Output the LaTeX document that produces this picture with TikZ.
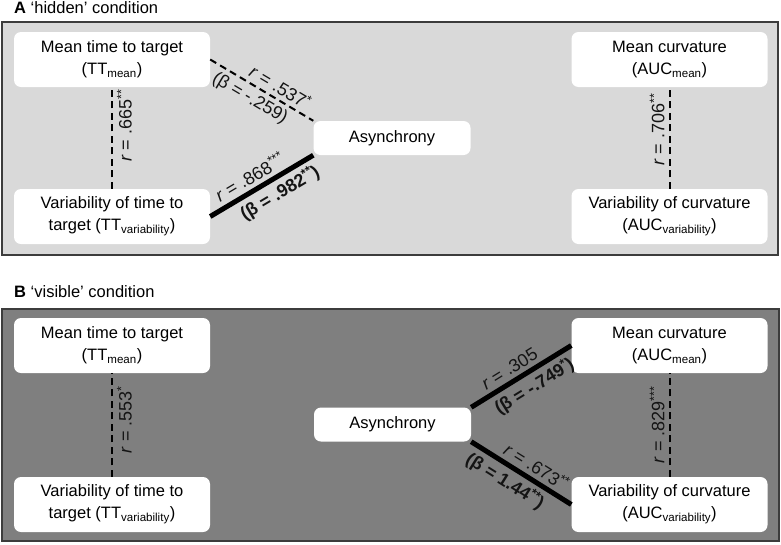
\documentclass[tikz,border=0pt]{standalone}
\usepackage{fontspec}
\setmainfont{Liberation Sans}
\definecolor{panelA}{HTML}{D9D9D9}
\definecolor{panelB}{HTML}{7F7F7F}
\definecolor{framegray}{HTML}{3C3C3C}
\definecolor{labgray}{HTML}{141414}
\newcommand{\boxfont}{\fontsize{16.5}{22}\selectfont}
\newcommand{\labfont}{\fontsize{18}{20}\selectfont}
\newcommand{\st}[1]{\raisebox{0.33em}{\fontsize{12.5}{12.5}\selectfont #1}}
\tikzset{
  panel/.style={draw=framegray, line width=1.5pt},
  varbox/.style={fill=white, rounded corners=7pt, align=center, inner sep=0pt,
    minimum width=196pt, minimum height=55pt, font=\boxfont},
  asybox/.style={varbox, minimum width=157pt, minimum height=34pt},
  corr/.style={line width=2pt, dash pattern=on 7pt off 4.5pt},
  pred/.style={line width=5pt},
  lab/.style={font=\labfont, text=labgray, inner sep=4pt, sloped}
}
\begin{document}
\begin{tikzpicture}[x=1pt,y=-1pt]
  \useasboundingbox (0,0) rectangle (781,544);

        % Panel A
  \node[font=\boxfont, anchor=west, inner sep=0pt] (titleA) at (14,8) {\textbf{A} ‘hidden’ condition};
  \draw[panel, fill=panelA] (2,22) rectangle (778,255);

  \node[varbox] (ttmeanA) at (112,59.5) {Mean time to target\\(TT\textsubscript{mean})};
  \node[varbox] (ttvarA) at (112,216.5) {Variability of time to\\target (TT\textsubscript{variability})};
  \node[asybox] (asyA) at (392,138) {Asynchrony};
  \node[varbox] (aucmeanA) at (669.5,59.5) {Mean curvature\\(AUC\textsubscript{mean})};
  \node[varbox] (aucvarA) at (669.5,216.5) {Variability of curvature\\(AUC\textsubscript{variability})};

        % Links A
  \draw[corr] (ttvarA.north) -- (ttmeanA.south)
    node[lab, below, pos=0.62] {\textit{r} = .665\st{**}};
  \draw[corr] (aucvarA.north) -- (aucmeanA.south)
    node[lab, above, pos=0.58] {\textit{r} = .706\st{**}};
  \draw[corr] (ttmeanA.east) -- (asyA.north west)
    node[lab, above, pos=0.62] {\textit{r} = .537\st{*}}
    node[lab, below, pos=0.45] {(β = -.259)};
  \draw[pred] (ttvarA.east) -- (asyA.south west)
    node[lab, above, pos=0.45] {\textit{r} = .868\st{***}}
    node[lab, below, pos=0.6] {\textbf{(β = .982\st{**})}};

        % Panel B
  \node[font=\boxfont, anchor=west, inner sep=0pt] (titleB) at (14,292) {\textbf{B} ‘visible’ condition};
  \draw[panel, fill=panelB] (2,309) rectangle (779,541);

  \node[varbox] (ttmeanB) at (112,345.5) {Mean time to target\\(TT\textsubscript{mean})};
  \node[varbox] (ttvarB) at (112,504.5) {Variability of time to\\target (TT\textsubscript{variability})};
  \node[asybox] (asyB) at (392.5,424.5) {Asynchrony};
  \node[varbox] (aucmeanB) at (669.5,345.5) {Mean curvature\\(AUC\textsubscript{mean})};
  \node[varbox] (aucvarB) at (669.5,504.5) {Variability of curvature\\(AUC\textsubscript{variability})};

        % Links B
  \draw[corr] (ttvarB.north) -- (ttmeanB.south)
    node[lab, below, pos=0.55] {\textit{r} = .553\st{*}};
  \draw[corr] (aucvarB.north) -- (aucmeanB.south)
    node[lab, above, pos=0.5] {\textit{r} = .829\st{***}};
  \draw[pred] (asyB.north east) -- (aucmeanB.west)
    node[lab, above, pos=0.45] {\textit{r} = .305}
    node[lab, below, pos=0.55] {\textbf{(β = -.749\st{*})}};
  \draw[pred] (asyB.south east) -- (aucvarB.west)
    node[lab, above, pos=0.58] {\textit{r} = .673\st{**}}
    node[lab, below, pos=0.42] {\textbf{(β = 1.44\st{**})}};
\end{tikzpicture}
\end{document}
